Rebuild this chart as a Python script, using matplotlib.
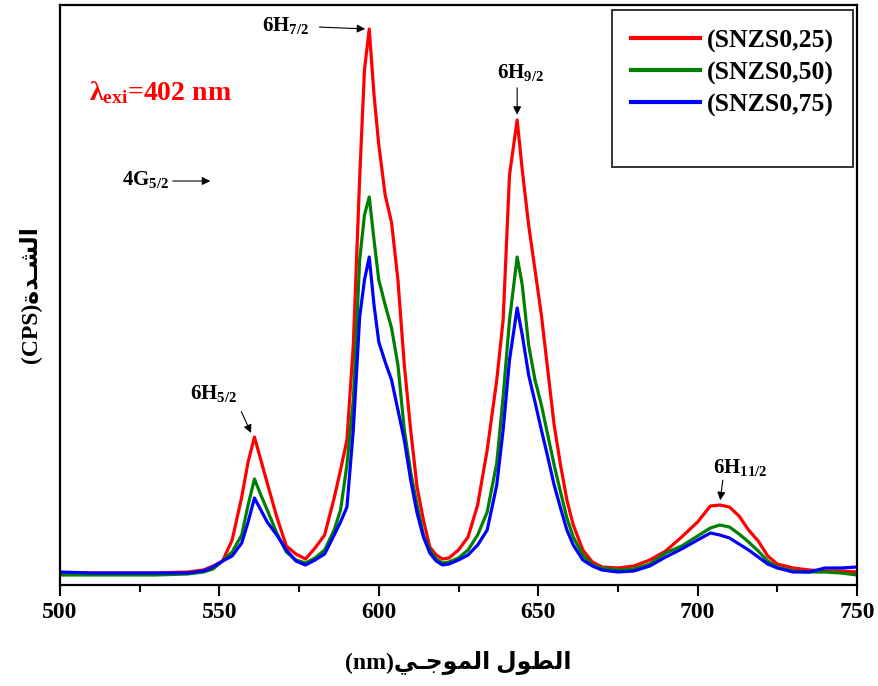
import matplotlib
matplotlib.use("Agg")
import matplotlib.pyplot as plt
from matplotlib.lines import Line2D
from matplotlib.ticker import MultipleLocator, NullLocator

# fonts: Times-like bold, DejaVu as fallback for the Arabic glyphs
plt.rcParams['font.family'] = ['Liberation Serif', 'DejaVu Sans']
plt.rcParams['font.weight'] = 'bold'
plt.rcParams['axes.labelweight'] = 'bold'
plt.rcParams['mathtext.fontset'] = 'custom'
plt.rcParams['mathtext.rm'] = 'Liberation Serif:bold'
plt.rcParams['mathtext.it'] = 'Liberation Serif:bold'
plt.rcParams['mathtext.bf'] = 'Liberation Serif:bold'

# wavelength grid (nm)
wavelength = [500, 510, 520, 530, 540, 545, 548, 551, 554, 557,
              559, 561, 563, 565, 568, 571, 574, 577, 580, 583,
              586, 588, 590, 592, 594, 595.5, 597, 598.5, 600, 602,
              604, 606, 608, 610, 612, 614, 616, 618, 620, 622,
              625, 628, 631, 634, 637, 639, 641, 643.4, 645, 647,
              649, 651, 653, 655, 657, 659, 661, 664, 667, 670,
              675, 680, 685, 690, 695, 700, 704, 707, 710, 713,
              716, 719, 722, 725, 730, 735, 740, 745, 750]

# intensities (CPS, arbitrary scale)
snzs_025 = [240, 240, 240, 240, 260, 300, 380, 480, 900, 1760,
            2460, 2960, 2500, 2040, 1360, 780, 620, 520, 740, 1000,
            1740, 2300, 2900, 4800, 8140, 10300, 11120, 9800, 8800, 7800,
            7250, 6100, 4400, 3100, 1960, 1300, 760, 600, 520, 540,
            700, 960, 1600, 2700, 4100, 5300, 8200, 9300, 8300, 7200,
            6300, 5400, 4300, 3200, 2400, 1700, 1200, 700, 460, 360,
            340, 380, 500, 680, 960, 1260, 1580, 1600, 1560, 1380,
            1100, 880, 580, 420, 340, 300, 280, 280, 260]
snzs_050 = [200, 200, 200, 200, 220, 260, 320, 480, 660, 1000,
            1600, 2120, 1800, 1500, 1040, 660, 500, 440, 540, 700,
            1100, 1500, 2400, 3700, 6500, 7400, 7760, 6900, 6100, 5600,
            5140, 4400, 3100, 2260, 1600, 1000, 700, 520, 440, 460,
            540, 700, 1000, 1460, 2440, 3760, 5300, 6560, 6000, 4800,
            4100, 3600, 3000, 2400, 1860, 1340, 960, 600, 400, 340,
            300, 320, 420, 640, 780, 980, 1140, 1200, 1160, 1020,
            860, 680, 480, 360, 280, 260, 260, 240, 200]
snzs_075 = [260, 240, 240, 240, 240, 280, 360, 480, 580, 840,
            1260, 1740, 1500, 1260, 1000, 700, 480, 400, 500, 620,
            1000, 1260, 1560, 3100, 5360, 6100, 6560, 5600, 4860, 4460,
            4100, 3500, 2900, 2100, 1440, 960, 640, 480, 400, 420,
            500, 600, 800, 1100, 2000, 3100, 4500, 5540, 5000, 4200,
            3660, 3100, 2560, 2000, 1540, 1100, 800, 500, 380, 300,
            260, 280, 380, 560, 720, 900, 1040, 1000, 940, 820,
            700, 560, 420, 340, 260, 260, 340, 340, 360]

labels = ["(SNZS0,25)", "(SNZS0,50)", "(SNZS0,75)"]
colors = ["#ff0000", "#008000", "#0000ff"]

# Arabic labels in presentation forms, visual order (no shaping in matplotlib)
ar_intensity = "\uFE93\uFEAA\u0640\uFEB8\uFEDF\uFE8D"
ar_wave = "\uFEF2\u0640\uFE9F\uFEEE\uFEE4\uFEDF\uFE8D" + " " + "\uFEDD\uFEEE\uFEC4\uFEDF\uFE8D"

fig = plt.figure(figsize=(8.79, 6.86), dpi=100)
ax = fig.add_axes([60 / 879, 1 - 585 / 686, 797 / 879, 580 / 686])

for y, lab, c in zip([snzs_025, snzs_050, snzs_075], labels, colors):
    ax.plot(wavelength, y, color=c, lw=2.3, label=lab)

ax.set_xlim(500, 750)
ax.set_ylim(0, 11600)
ax.xaxis.set_major_locator(MultipleLocator(50))
ax.xaxis.set_minor_locator(MultipleLocator(25))
ax.yaxis.set_major_locator(NullLocator())
ax.tick_params(axis='x', which='major', direction='out', length=8, width=1.5,
               labelsize=17, pad=4)
ax.tick_params(axis='x', which='minor', direction='out', length=5, width=1.5)
for s in ax.spines.values():
    s.set_linewidth(1.6)

ax.set_xlabel("(nm)" + ar_wave, fontsize=17, labelpad=20)
ax.set_ylabel("(CPS)" + ar_intensity, fontsize=17, labelpad=14)

# excitation wavelength
ax.text(509, 9700, r"λ$_{\rm exi}$=402 nm", color="#ff0000", fontsize=20)

# transition labels
arrow = dict(arrowstyle="-|>", color="black", lw=0.8, mutation_scale=12)
ax.annotate("", xy=(548, 8080), xytext=(534.5, 8080), arrowprops=arrow)
ax.text(519.4, 8000, r"4G$_{\rm 5/2}$", fontsize=15)
ax.text(570.8, 11200, r"6H$_{\rm 7/2}$", fontsize=15, ha="center", va="center")
ax.annotate("", xy=(596.6, 11120), xytext=(580.5, 11160), arrowprops=arrow)
ax.text(644.5, 10050, r"6H$_{\rm 9/2}$", fontsize=15, ha="center", va="bottom")
ax.annotate("", xy=(643.4, 9350), xytext=(643.4, 10000), arrowprops=arrow)
ax.text(548.3, 3620, r"6H$_{\rm 5/2}$", fontsize=15, ha="center", va="bottom")
ax.annotate("", xy=(560.3, 2990), xytext=(556.5, 3520), arrowprops=arrow)
ax.text(713.3, 2130, r"6H$_{\rm 11/2}$", fontsize=15, ha="center", va="bottom")
ax.annotate("", xy=(707, 1640), xytext=(708, 2150), arrowprops=arrow)

handles = [Line2D([], [], color=c, lw=3) for c in colors]
handles.append(Line2D([], [], color="none"))
leg = ax.legend(handles, labels + [" "], loc="upper right",
                bbox_to_anchor=(0.995, 0.991), borderaxespad=0,
                fontsize=18.5, handlelength=2.7, handletextpad=0.25,
                labelspacing=0.33, borderpad=0.75, fancybox=False,
                framealpha=1, edgecolor="#333333")
leg.get_frame().set_linewidth(1.4)

fig.savefig("out.png", dpi=100)
